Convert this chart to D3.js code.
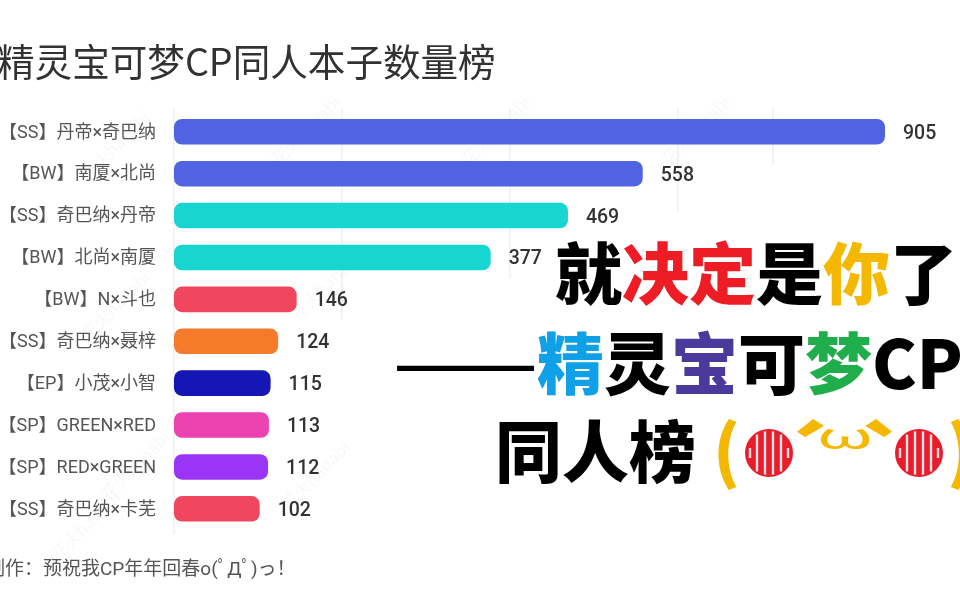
<!DOCTYPE html>
<html>
<head>
<meta charset="utf-8">
<script src="https://cdn.jsdelivr.net/npm/d3@7"></script>
<style>
  html, body { margin: 0; padding: 0; background: #fff; }
  svg { display: block; }
  text { font-family: "Noto Sans CJK SC", sans-serif; }
</style>
</head>
<body>
<div id="chart"></div>
<script>
// values
var categories = ["【SS】丹帝×奇巴纳", "【BW】南厦×北尚", "【SS】奇巴纳×丹帝", "【BW】北尚×南厦", "【BW】N×斗也",
  "【SS】奇巴纳×聂梓", "【EP】小茂×小智", "【SP】GREEN×RED", "【SP】RED×GREEN", "【SS】奇巴纳×卡芜"];
var values = [905, 558, 469, 377, 146, 124, 115, 113, 112, 102];
var gridTicks = [0, 200, 400, 600, 740];
var gridLastRow = [9.6, 4.5, 3.5, 1.9, 0.8]; // the grid lines stop part way down in the frame

var palette = ["#4f64e3", "#4f64e3", "#14d6cf", "#14d6cf", "#f0465f", "#f57a2c", "#1616b4", "#ec42b0", "#9b35f5", "#f0465f"];

var title = "精灵宝可梦CP同人本子数量榜";
var footer = "制作：预祝我CP年年回春o(ﾟДﾟ)っ！";
var mark = "花火hanabi";

var headline1 = [["就", "#000"], ["决定", "#ee1c25"], ["是", "#000"], ["你", "#f5b800"], ["了", "#000"]];
var headline2 = [["精", "#0fa0e8"], ["灵", "#000"], ["宝", "#4b3a9b"], ["可", "#000"], ["梦", "#1fae4b"], ["CP", "#000"]];
var headline3 = "同人榜";

var svg = d3.select("#chart").append("svg")
  .attr("width", 960)
  .attr("height", 600);

svg.append("filter").attr("id", "soft")
  .append("feGaussianBlur").attr("stdDeviation", 0.55);

var chart = svg.append("g").attr("filter", "url(#soft)");

// the first bar is cut short in the picture, so the scale bends after 600
var x = d3.scaleLinear().domain([0, 600, 905]).range([174, 678, 885]);
var y = d3.scaleBand().domain(categories).range([119, 521.6]).paddingInner(0.39);
var rowY = d3.scaleLinear().domain([0, 9]).range([131.7, 508.8]);
var color = d3.scaleOrdinal(categories, palette);

chart.append("text")
  .attr("x", -3).attr("y", 75.5)
  .attr("font-size", 37.6)
  .attr("fill", "#333")
  .text(title);

// faint watermarks
chart.selectAll(".mark")
  .data([[120, 150], [310, 135], [500, 135], [700, 135], [330, 290], [120, 310], [140, 470], [320, 480], [90, 530]])
  .join("text")
  .attr("class", "mark")
  .attr("transform", d => "translate(" + d[0] + "," + d[1] + ") rotate(-45)")
  .attr("text-anchor", "middle")
  .attr("font-size", 17)
  .attr("fill", "#000")
  .attr("fill-opacity", 0.03)
  .text(mark);

chart.selectAll(".grid")
  .data(gridTicks)
  .join("line")
  .attr("class", "grid")
  .attr("x1", d => x(d)).attr("x2", d => x(d))
  .attr("y1", rowY(-0.55))
  .attr("y2", (d, i) => rowY(gridLastRow[i]))
  .attr("stroke", "#e6e6e6")
  .attr("stroke-width", 1);

var yAxis = chart.append("g")
  .attr("transform", "translate(174,0)")
  .call(d3.axisLeft(y).tickSize(0).tickPadding(18));
yAxis.select(".domain").remove();
yAxis.selectAll("text")
  .attr("font-size", 18)
  .attr("fill", "#555")
  .style("font-family", 'Roboto, "Noto Sans CJK SC", sans-serif');

var rows = categories.map((c, i) => ({ name: c, value: values[i] }));

chart.selectAll(".bar")
  .data(rows)
  .join("rect")
  .attr("class", "bar")
  .attr("x", x(0))
  .attr("y", d => y(d.name))
  .attr("width", d => x(d.value) - x(0))
  .attr("height", y.bandwidth())
  .attr("rx", 8)
  .attr("fill", d => color(d.name));

chart.selectAll(".value")
  .data(rows)
  .join("text")
  .attr("class", "value")
  .attr("x", d => x(d.value) + 18)
  .attr("y", d => y(d.name) + y.bandwidth() / 2)
  .attr("dy", "0.36em")
  .attr("font-size", 19.5)
  .attr("font-weight", 500)
  .attr("fill", "#333")
  .style("font-family", "Roboto, sans-serif")
  .text(d => d.value);

chart.append("text")
  .attr("x", -14).attr("y", 575)
  .attr("font-size", 19)
  .attr("fill", "#555")
  .style("font-family", 'Roboto, "Noto Sans CJK SC", sans-serif')
  .text(footer);

// big headline laid over the chart
var big = svg.append("g")
  .attr("font-size", 67)
  .attr("font-weight", 900)
  .attr("fill", "#000");

function colouredLine(parts, left, base) {
  var t = big.append("text").attr("x", left).attr("y", base);
  t.selectAll("tspan").data(parts).join("tspan")
    .attr("fill", d => d[1])
    .text(d => d[0]);
}

colouredLine(headline1, 555, 299);
colouredLine(headline2, 537, 389);
big.append("text")
  .attr("x", 393).attr("y", 387)
  .attr("font-weight", 500)
  .attr("textLength", 145)
  .attr("lengthAdjust", "spacingAndGlyphs")
  .text("——");
big.append("text").attr("x", 495).attr("y", 477).text(headline3);

// kaomoji (◍´ω`◍)
var face = svg.append("g").attr("fill", "#f5b800");
face.append("text").attr("x", 713).attr("y", 476).attr("font-size", 68).attr("font-weight", 900).text("(");
face.append("text").attr("x", 947).attr("y", 476).attr("font-size", 68).attr("font-weight", 900).text(")");
face.append("text")
  .attr("transform", "translate(775,476) scale(1.5,1)")
  .attr("font-size", 60).attr("font-weight", 900)
  .text("´");
face.append("text")
  .attr("transform", "translate(845,449) scale(1.45,0.72)")
  .attr("text-anchor", "middle")
  .attr("font-size", 50).attr("font-weight", 400)
  .text("ω");
face.append("text")
  .attr("transform", "translate(857,476) scale(1.5,1)")
  .attr("font-size", 60).attr("font-weight", 900)
  .text("`");

var stripes = [-19, -12, -4, 4, 12, 19];
[769, 919].forEach(function(cx) {
  var eye = face.append("g").attr("transform", "translate(" + cx + ",453)");
  eye.append("circle").attr("r", 24).attr("fill", "#e81c2b");
  eye.selectAll("line").data(stripes).join("line")
    .attr("x1", d => d).attr("x2", d => d)
    .attr("y1", d => Math.abs(d) > 15 ? -5 : -Math.sqrt(484 - d * d))
    .attr("y2", d => Math.abs(d) > 15 ? 5 : Math.sqrt(484 - d * d))
    .attr("stroke", "#fbe3e3")
    .attr("stroke-width", 2.4);
});
</script>
</body>
</html>
